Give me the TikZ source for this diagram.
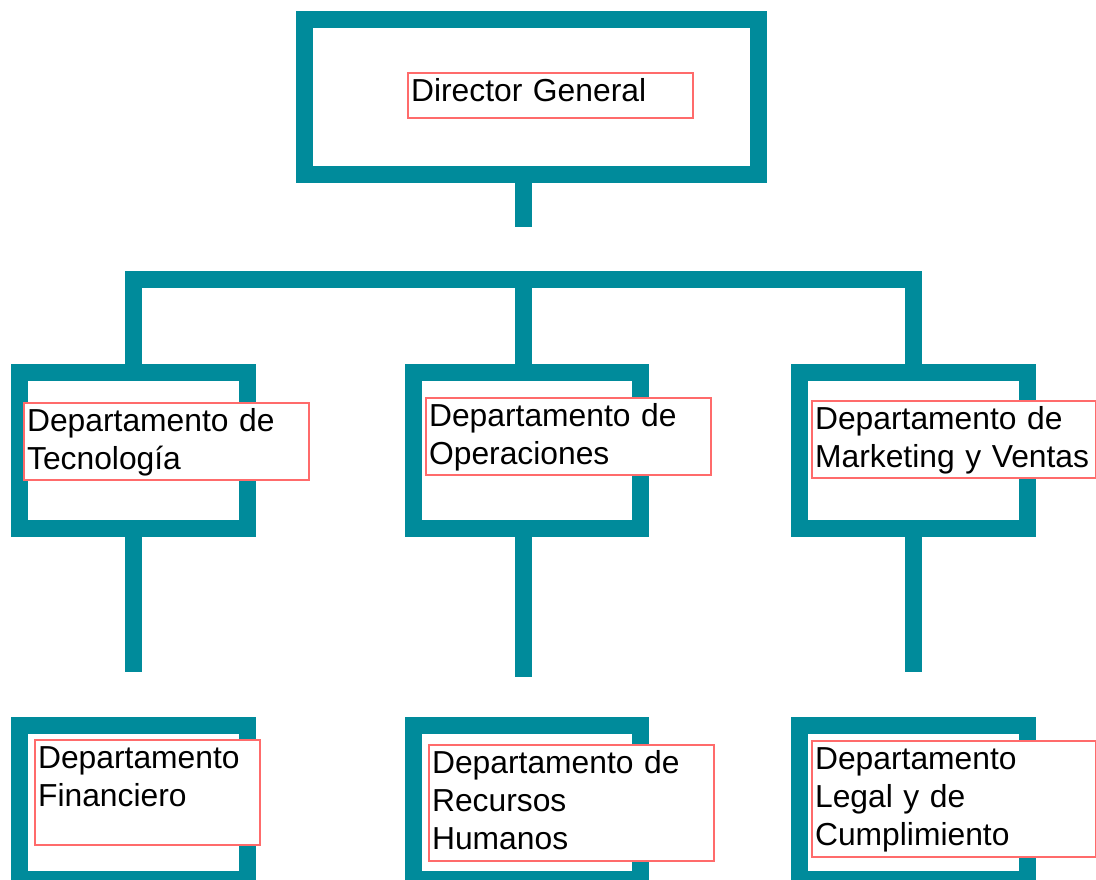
\documentclass[tikz,border=0pt]{standalone}
\usepackage{fontspec}
\setmainfont{Liberation Sans}
\definecolor{orgteal}{HTML}{008B9B}
\definecolor{lblred}{HTML}{FF6B6B}
\begin{document}
\begin{tikzpicture}[x=1pt,y=-1pt,
  unit/.style={draw=orgteal,line width=17pt,rectangle,inner sep=0pt,minimum height=156pt,minimum width=228pt},
  link/.style={draw=orgteal,line width=17pt,line join=miter},
  lbl/.style={draw=lblred,line width=2.2pt,fill=white,rectangle,anchor=north west,align=left,
    inner xsep=3pt,inner ysep=2pt,text height=26pt,
    font=\fontsize{31.8}{38}\selectfont}]
\useasboundingbox (0,0) rectangle (1096,879);
\clip (0,0) rectangle (1096,879);

\node[unit,minimum width=454pt,minimum height=154.5pt] (dg) at (531.5,96.75) {};
\node[unit] (tec) at (133.5,450.5) {};
\node[unit,minimum width=227pt] (ops) at (527,450.5) {};
\node[unit] (mkt) at (913.5,450.5) {};
\node[unit,minimum height=154pt] (fin) at (133.5,802) {};
\node[unit,minimum width=227pt,minimum height=154pt] (rh) at (527,802) {};
\node[unit,minimum height=154pt] (leg) at (913.5,802) {};

\coordinate (top) at (523.5,227);
\coordinate (bar) at (523.5,279);
\coordinate (tecend) at (133.5,672);
\coordinate (opsend) at (523.5,677);
\coordinate (mktend) at (913.5,672);

\path[link] (top |- dg.south) -- (top);
\path[link] (tec.north) -- (tec.north |- bar) -- (mkt.north |- bar) -- (mkt.north);
\path[link] (bar) -- (bar |- ops.north);
\path[link] (tec.south) -- (tecend);
\path[link] (opsend |- ops.south) -- (opsend);
\path[link] (mkt.south) -- (mktend);

\node[lbl,text width=279pt,text depth=15pt] (dgl) at (407,72) {Director General};
\node[lbl,text width=279pt,text depth=47pt] (tecl) at (23,402) {Departamento de\\Tecnología};
\node[lbl,text width=279pt,text depth=47pt] (opsl) at (425,397) {Departamento de\\Operaciones};
\node[lbl,text width=278pt,text depth=47pt] (mktl) at (811,400) {Departamento de\\Marketing y Ventas};
\node[lbl,text width=219pt,text depth=75pt] (finl) at (34,739) {Departamento\\Financiero};
\node[lbl,text width=279pt,text depth=86pt] (rhl) at (428,744) {Departamento de\\Recursos\\Humanos};
\node[lbl,text width=278pt,text depth=86pt] (legl) at (811,740) {Departamento\\Legal y de\\Cumplimiento};

\end{tikzpicture}
\end{document}
